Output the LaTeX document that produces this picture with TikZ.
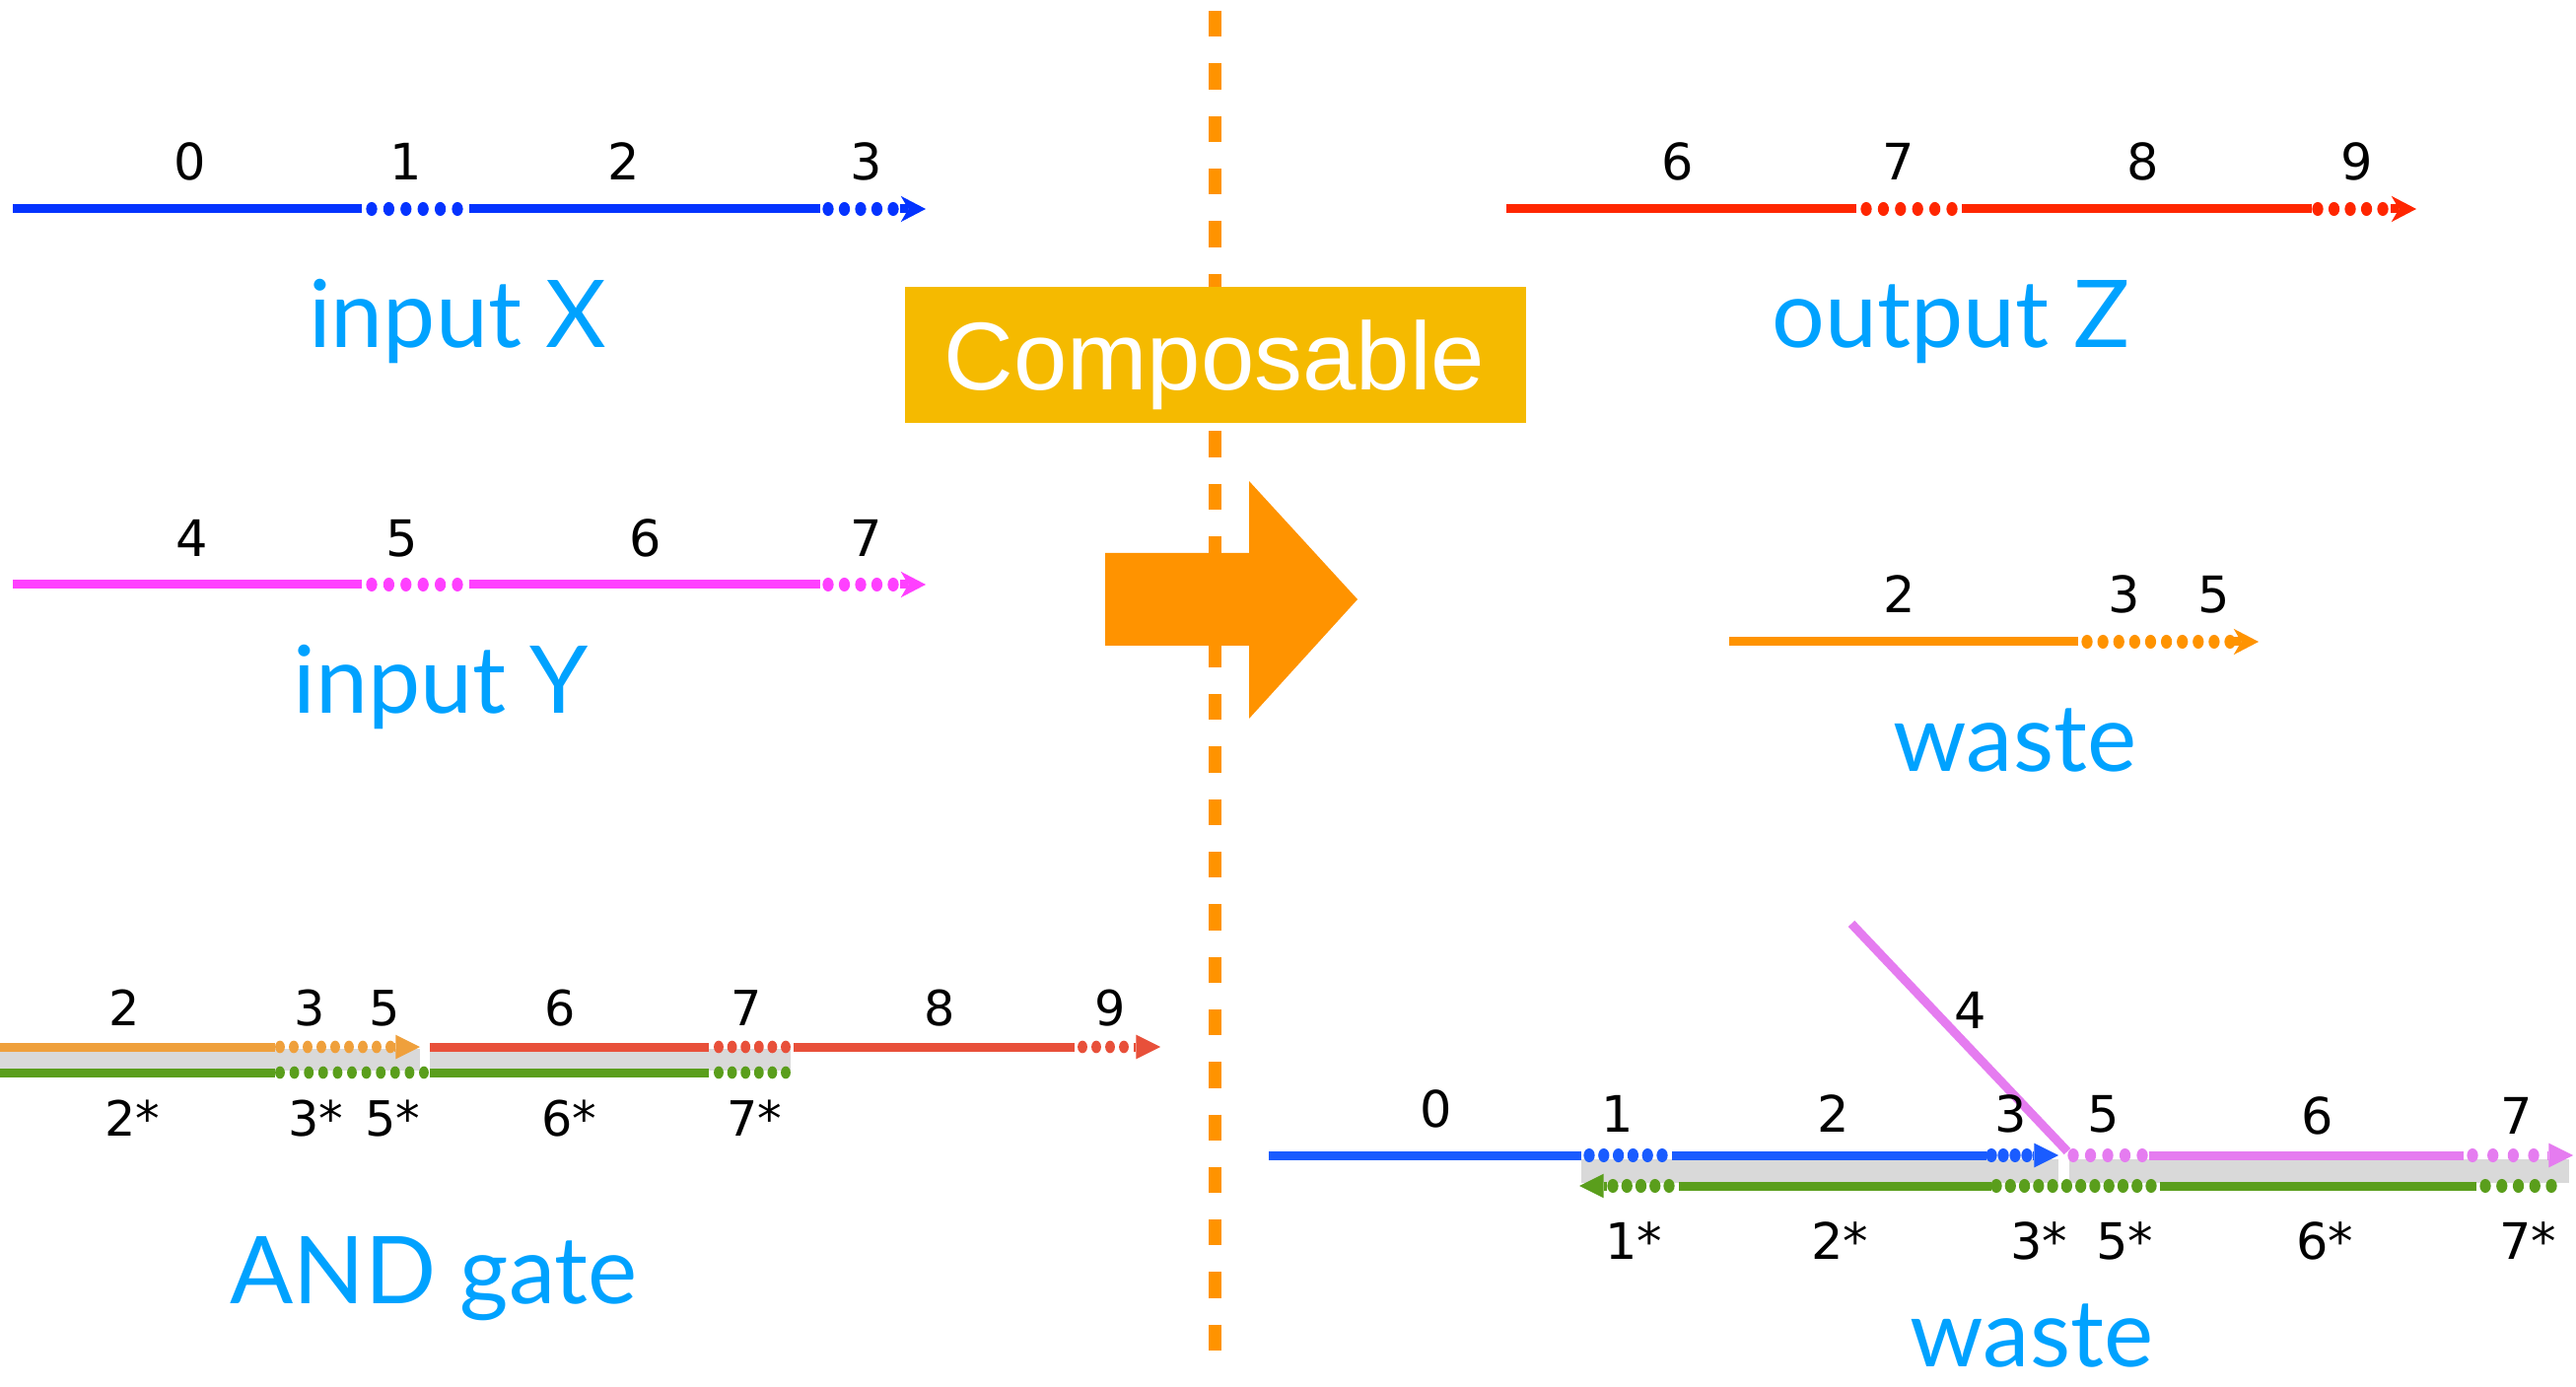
\documentclass[tikz,border=0pt]{standalone}
\usepackage{fontspec}
\newfontfamily\numfont{DejaVu Sans}
\newfontfamily\titlefont{Lato}
\newfontfamily\boxfont{Liberation Sans}
\usetikzlibrary{arrows.meta}
\definecolor{ttlc}{HTML}{00A2FF}
\definecolor{bX}{HTML}{0433FF}
\definecolor{pY}{HTML}{FF40FF}
\definecolor{rZ}{HTML}{FF2600}
\definecolor{orW}{HTML}{FF9300}
\definecolor{goldc}{HTML}{F5BA00}
\definecolor{orA}{HTML}{EFA03C}
\definecolor{rdA}{HTML}{E8503A}
\definecolor{grA}{HTML}{5A9E1C}
\definecolor{gryA}{HTML}{D9D9D9}
\definecolor{bB}{HTML}{1A5CFF}
\definecolor{pB}{HTML}{E57CF0}
% dotted run: x1 x2 n y style
\newcommand\dotrow[5]{%
  \pgfmathsetmacro\dstep{(#2-#1)/(#3-1)}%
  \foreach \k in {1,...,#3}{\fill[#5] ({#1+(\k-1)*\dstep},#4) ellipse;}}
\begin{document}
\begin{tikzpicture}[x=0.01cm,y=-0.01cm,
  strand/.style={line width=2.56pt},
  bigdot/.style={x radius=1.6pt,y radius=2pt},
  smalldot/.style={x radius=1.4pt,y radius=1.8pt},
  lab/.style={font=\numfont\fontsize{14.5}{16}\selectfont, anchor=base, inner sep=0pt},
  slab/.style={font=\numfont\fontsize{14}{16}\selectfont, anchor=base, inner sep=0pt},
  ttl/.style={font=\titlefont\fontsize{27}{31}\selectfont, text=ttlc, anchor=base, inner sep=0pt},
  stl/.style={-{Stealth[length=7.2pt,width=7.5pt,inset=2.2pt,line width=0pt]}},
  tri/.style={-{Triangle[length=7pt,width=7pt,line width=0pt]}}]
\path[use as bounding box, fill=white] (0,0) rectangle (2613,1407);

% divider and composable
\draw[orW, line width=3.7pt, dash pattern=on 7.48pt off 7.68pt] (1232,11) -- (1232,1372);
\node[fill=goldc, minimum width=630*0.2845pt, minimum height=138*0.2845pt, inner sep=0pt, anchor=north west] (box) at (917,290) {};
\node[font=\boxfont\fontsize{27.8}{30}\selectfont, text=white, anchor=base, inner sep=0pt] (comp) at (1232,396) {Composable};
\fill[orW] (1121,561) -- (1267,561) -- (1267,488) -- (1377,608) -- (1267,729) -- (1267,655) -- (1121,655) -- cycle;

% input X
\draw[strand,bX] (13,212) -- (367,212);
\draw[strand,bX] (476,212) -- (832,212);
\dotrow{377}{464}{6}{212}{bX,bigdot}
\dotrow{840}{906}{5}{212}{bX,bigdot}
\draw[strand,bX,stl] (913,212) -- (939,212);
\node[lab] (x0) at (193,183) {0};
\node[lab] (x1) at (412,183) {1};
\node[lab] (x2) at (633,183) {2};
\node[lab] (x3) at (879,183) {3};
\node[ttl] (tX) at (464,353) {input X};

% input Y
\draw[strand,pY] (13,593) -- (367,593);
\draw[strand,pY] (476,593) -- (832,593);
\dotrow{377}{464}{6}{593}{pY,bigdot}
\dotrow{840}{906}{5}{593}{pY,bigdot}
\draw[strand,pY,stl] (913,593) -- (939,593);
\node[lab] (y4) at (195,565) {4};
\node[lab] (y5) at (408,565) {5};
\node[lab] (y6) at (655,565) {6};
\node[lab] (y7) at (879,565) {7};
\node[ttl] (tY) at (447,724) {input Y};

% output Z
\draw[strand,rZ] (1528,212) -- (1883,212);
\draw[strand,rZ] (1990,212) -- (2345,212);
\dotrow{1893}{1980}{6}{212}{rZ,bigdot}
\dotrow{2351}{2417}{5}{212}{rZ,bigdot}
\draw[strand,rZ,stl] (2425,212) -- (2451,212);
\node[lab] (z6) at (1702,183) {6};
\node[lab] (z7) at (1926,183) {7};
\node[lab] (z8) at (2174,183) {8};
\node[lab] (z9) at (2391,183) {9};
\node[ttl] (tZ) at (1979,353) {output Z};

% waste (orange)
\draw[strand,orW] (1754,651) -- (2108,651);
\dotrow{2117}{2262}{10}{651}{orW,bigdot}
\draw[strand,orW,stl] (2265,651) -- (2291,651);
\node[lab] (w2) at (1927,622) {2};
\node[lab] (w3) at (2155,622) {3};
\node[lab] (w5) at (2246,622) {5};
\node[ttl] (tW) at (2044,782) {waste};

% AND gate
\fill[gryA] (0,1064) rectangle (426,1086);
\fill[gryA] (436,1064) rectangle (802,1086);
\draw[strand,orA] (0,1062) -- (279,1062);
\dotrow{284}{396}{9}{1062}{orA,smalldot}
\draw[strand,orA,tri] (400,1062) -- (426,1062);
\draw[strand,rdA] (436,1062) -- (719,1062);
\dotrow{729}{797}{6}{1062}{rdA,smalldot}
\draw[strand,rdA] (805,1062) -- (1090,1062);
\dotrow{1098}{1140}{4}{1062}{rdA,smalldot}
\draw[strand,rdA,tri] (1150,1062) -- (1177,1062);
\draw[strand,grA] (0,1088) -- (279,1088);
\dotrow{284}{430}{11}{1088}{grA,smalldot}
\draw[strand,grA] (436,1088) -- (719,1088);
\dotrow{729}{797}{6}{1088}{grA,smalldot}
\node[slab] (a2) at (126,1040) {2};
\node[slab] (a3) at (314,1040) {3};
\node[slab] (a5) at (390,1040) {5};
\node[slab] (a6) at (568,1040) {6};
\node[slab] (a7) at (757,1040) {7};
\node[slab] (a8) at (953,1040) {8};
\node[slab] (a9) at (1126,1040) {9};
\node[slab] (a2s) at (134,1152) {2*};
\node[slab] (a3s) at (320,1152) {3*};
\node[slab] (a5s) at (398,1152) {5*};
\node[slab] (a6s) at (577,1152) {6*};
\node[slab] (a7s) at (765,1152) {7*};
\node[ttl] (tA) at (440,1322) {AND gate};

% composed complex
\fill[gryA] (1604,1176) rectangle (2088,1200);
\fill[gryA] (2099,1176) rectangle (2606,1200);
\draw[strand,pB] (1878,937) -- (2097,1168);
\draw[strand,bB] (1287,1172) -- (1604,1172);
\dotrow{1612}{1686}{6}{1172}{bB,bigdot}
\draw[strand,bB] (1696,1172) -- (2015,1172);
\dotrow{2020}{2056}{4}{1172}{bB,bigdot}
\draw[strand,bB,tri] (2062,1172) -- (2088,1172);
\dotrow{2103}{2173}{5}{1172}{pB,bigdot}
\draw[strand,pB] (2180,1172) -- (2499,1172);
\dotrow{2508}{2570}{4}{1172}{pB,bigdot}
\draw[strand,pB,tri] (2584,1172) -- (2610,1172);
\draw[strand,grA,tri] (1630,1203) -- (1602,1203);
\dotrow{1636}{1693}{5}{1203}{grA,bigdot}
\draw[strand,grA] (1703,1203) -- (2020,1203);
\dotrow{2025}{2182}{12}{1203}{grA,bigdot}
\draw[strand,grA] (2191,1203) -- (2512,1203);
\dotrow{2521}{2588}{5}{1203}{grA,bigdot}
\node[lab] (c0) at (1457,1143) {0};
\node[lab] (c1) at (1641,1148) {1};
\node[lab] (c2) at (1860,1148) {2};
\node[lab] (c3) at (2040,1148) {3};
\node[lab] (c4) at (1999,1043) {4};
\node[lab] (c5) at (2134,1148) {5};
\node[lab] (c6) at (2351,1150) {6};
\node[lab] (c7) at (2553,1150) {7};
\node[lab] (c1s) at (1657,1277) {1*};
\node[lab] (c2s) at (1866,1277) {2*};
\node[lab] (c3s) at (2068,1277) {3*};
\node[lab] (c5s) at (2155,1277) {5*};
\node[lab] (c6s) at (2358,1277) {6*};
\node[lab] (c7s) at (2564,1277) {7*};
\node[ttl] (tW2) at (2061,1386) {waste};
\end{tikzpicture}
\end{document}
